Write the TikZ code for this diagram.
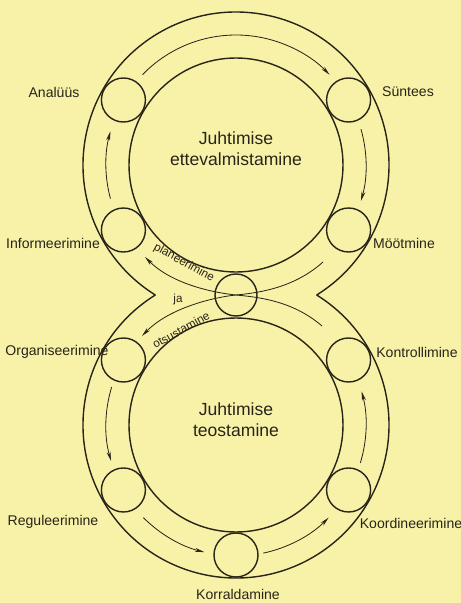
\documentclass[tikz,border=0pt]{standalone}
\usepackage{fontspec}
\setmainfont{Liberation Sans}
\usetikzlibrary{calc,arrows.meta}
\definecolor{paper}{RGB}{248,242,168}
\definecolor{ink}{RGB}{40,36,24}

\begin{document}
\begin{tikzpicture}[x=0.03cm,y=0.03cm,
  ring/.style={line width=1.2pt,draw=ink},
  flow/.style={line width=0.7pt,draw=ink,-{Stealth[length=8pt,width=3.4pt]}},
  stn/.style={circle,draw=ink,line width=1.2pt,minimum size=1.32cm,inner sep=0pt},
  lbl/.style={text=ink,font=\fontsize{12}{14}\selectfont},
  side/.style={text=ink,inner sep=0pt,font=\fontsize{10}{11}\selectfont},
  title/.style={text=ink,align=center,font=\fontsize{15}{18}\selectfont}]
  \fill[paper] (0,0) rectangle (461,603);
  \useasboundingbox (0,0) rectangle (461,603);
  \coordinate (T) at (236,438);
  \coordinate (B) at (236,178);
  \coordinate (X) at (236,308);
  % the two rings of the figure eight
  \draw[ring] (T) ++(-58.2:153) arc[start angle=-58.2,end angle=238.2,radius=153];
  \draw[ring] (B) ++(121.8:153) arc[start angle=121.8,end angle=418.2,radius=153];
  \draw[ring] (T) circle[radius=107];
  \draw[ring] (B) circle[radius=107];
  % stations
  \node[stn] (an)  at ([shift={(150:130)}]T) {};
  \node[stn] (syn) at ([shift={(30:130)}]T) {};
  \node[stn] (inf) at ([shift={(210:130)}]T) {};
  \node[stn] (moo) at ([shift={(330:130)}]T) {};
  \node[stn] (org) at ([shift={(150:130)}]B) {};
  \node[stn] (kon) at ([shift={(30:130)}]B) {};
  \node[stn] (reg) at ([shift={(210:130)}]B) {};
  \node[stn] (koo) at ([shift={(330:130)}]B) {};
  \node[stn] (kor) at ([shift={(270:130)}]B) {};
  \node[stn,minimum size=1.26cm] (ris) at (X) {};
  % arrows along the top ring
  \draw[flow] (T) ++(136:130) arc[start angle=136,end angle=44,radius=130];
  \draw[flow] (T) ++(16:130) arc[start angle=16,end angle=-16,radius=130];
  \draw[flow] (T) ++(195:130) arc[start angle=195,end angle=165,radius=130];
  % arrows along the bottom ring
  \draw[flow] (B) ++(163:130) arc[start angle=163,end angle=196,radius=130];
  \draw[flow] (B) ++(225:131) arc[start angle=225,end angle=256,radius=131];
  \draw[flow] (B) ++(282:131) arc[start angle=282,end angle=315,radius=131];
  \draw[flow] (B) ++(343:130) arc[start angle=343,end angle=375,radius=130];
  % crossing curves
  \draw[flow] (323,341) .. controls (293,314) and (256,310) .. (X)
    .. controls (216,306) and (170,296) .. (142,267);
  \draw[flow] (322,277) .. controls (292,303) and (256,306) .. (X)
    .. controls (216,310) and (173,318) .. (145,346);
  % labels
  \node[lbl] at (54,511) {Analüüs};
  \node[lbl] at (408,511) {Süntees};
  \node[lbl] at (53,360) {Informeerimine};
  \node[lbl] at (404,360) {Möötmine};
  \node[lbl] at (57,251) {Organiseerimine};
  \node[lbl] at (417,251) {Kontrollimine};
  \node[lbl] at (53,81) {Reguleerimine};
  \node[lbl] at (411,80) {Koordineerimine};
  \node[lbl] at (238,9) {Korraldamine};
  \node[title] at (236,454) {Juhtimise\\ettevalmistamine};
  \node[title] at (236,183) {Juhtimise\\teostamine};
  \node[side,rotate=-29] at (184,340) {planeerimine};
  \node[side] at (178,304) {ja};
  \node[side,rotate=29] at (181,273) {otsustamine};
\end{tikzpicture}
\end{document}
